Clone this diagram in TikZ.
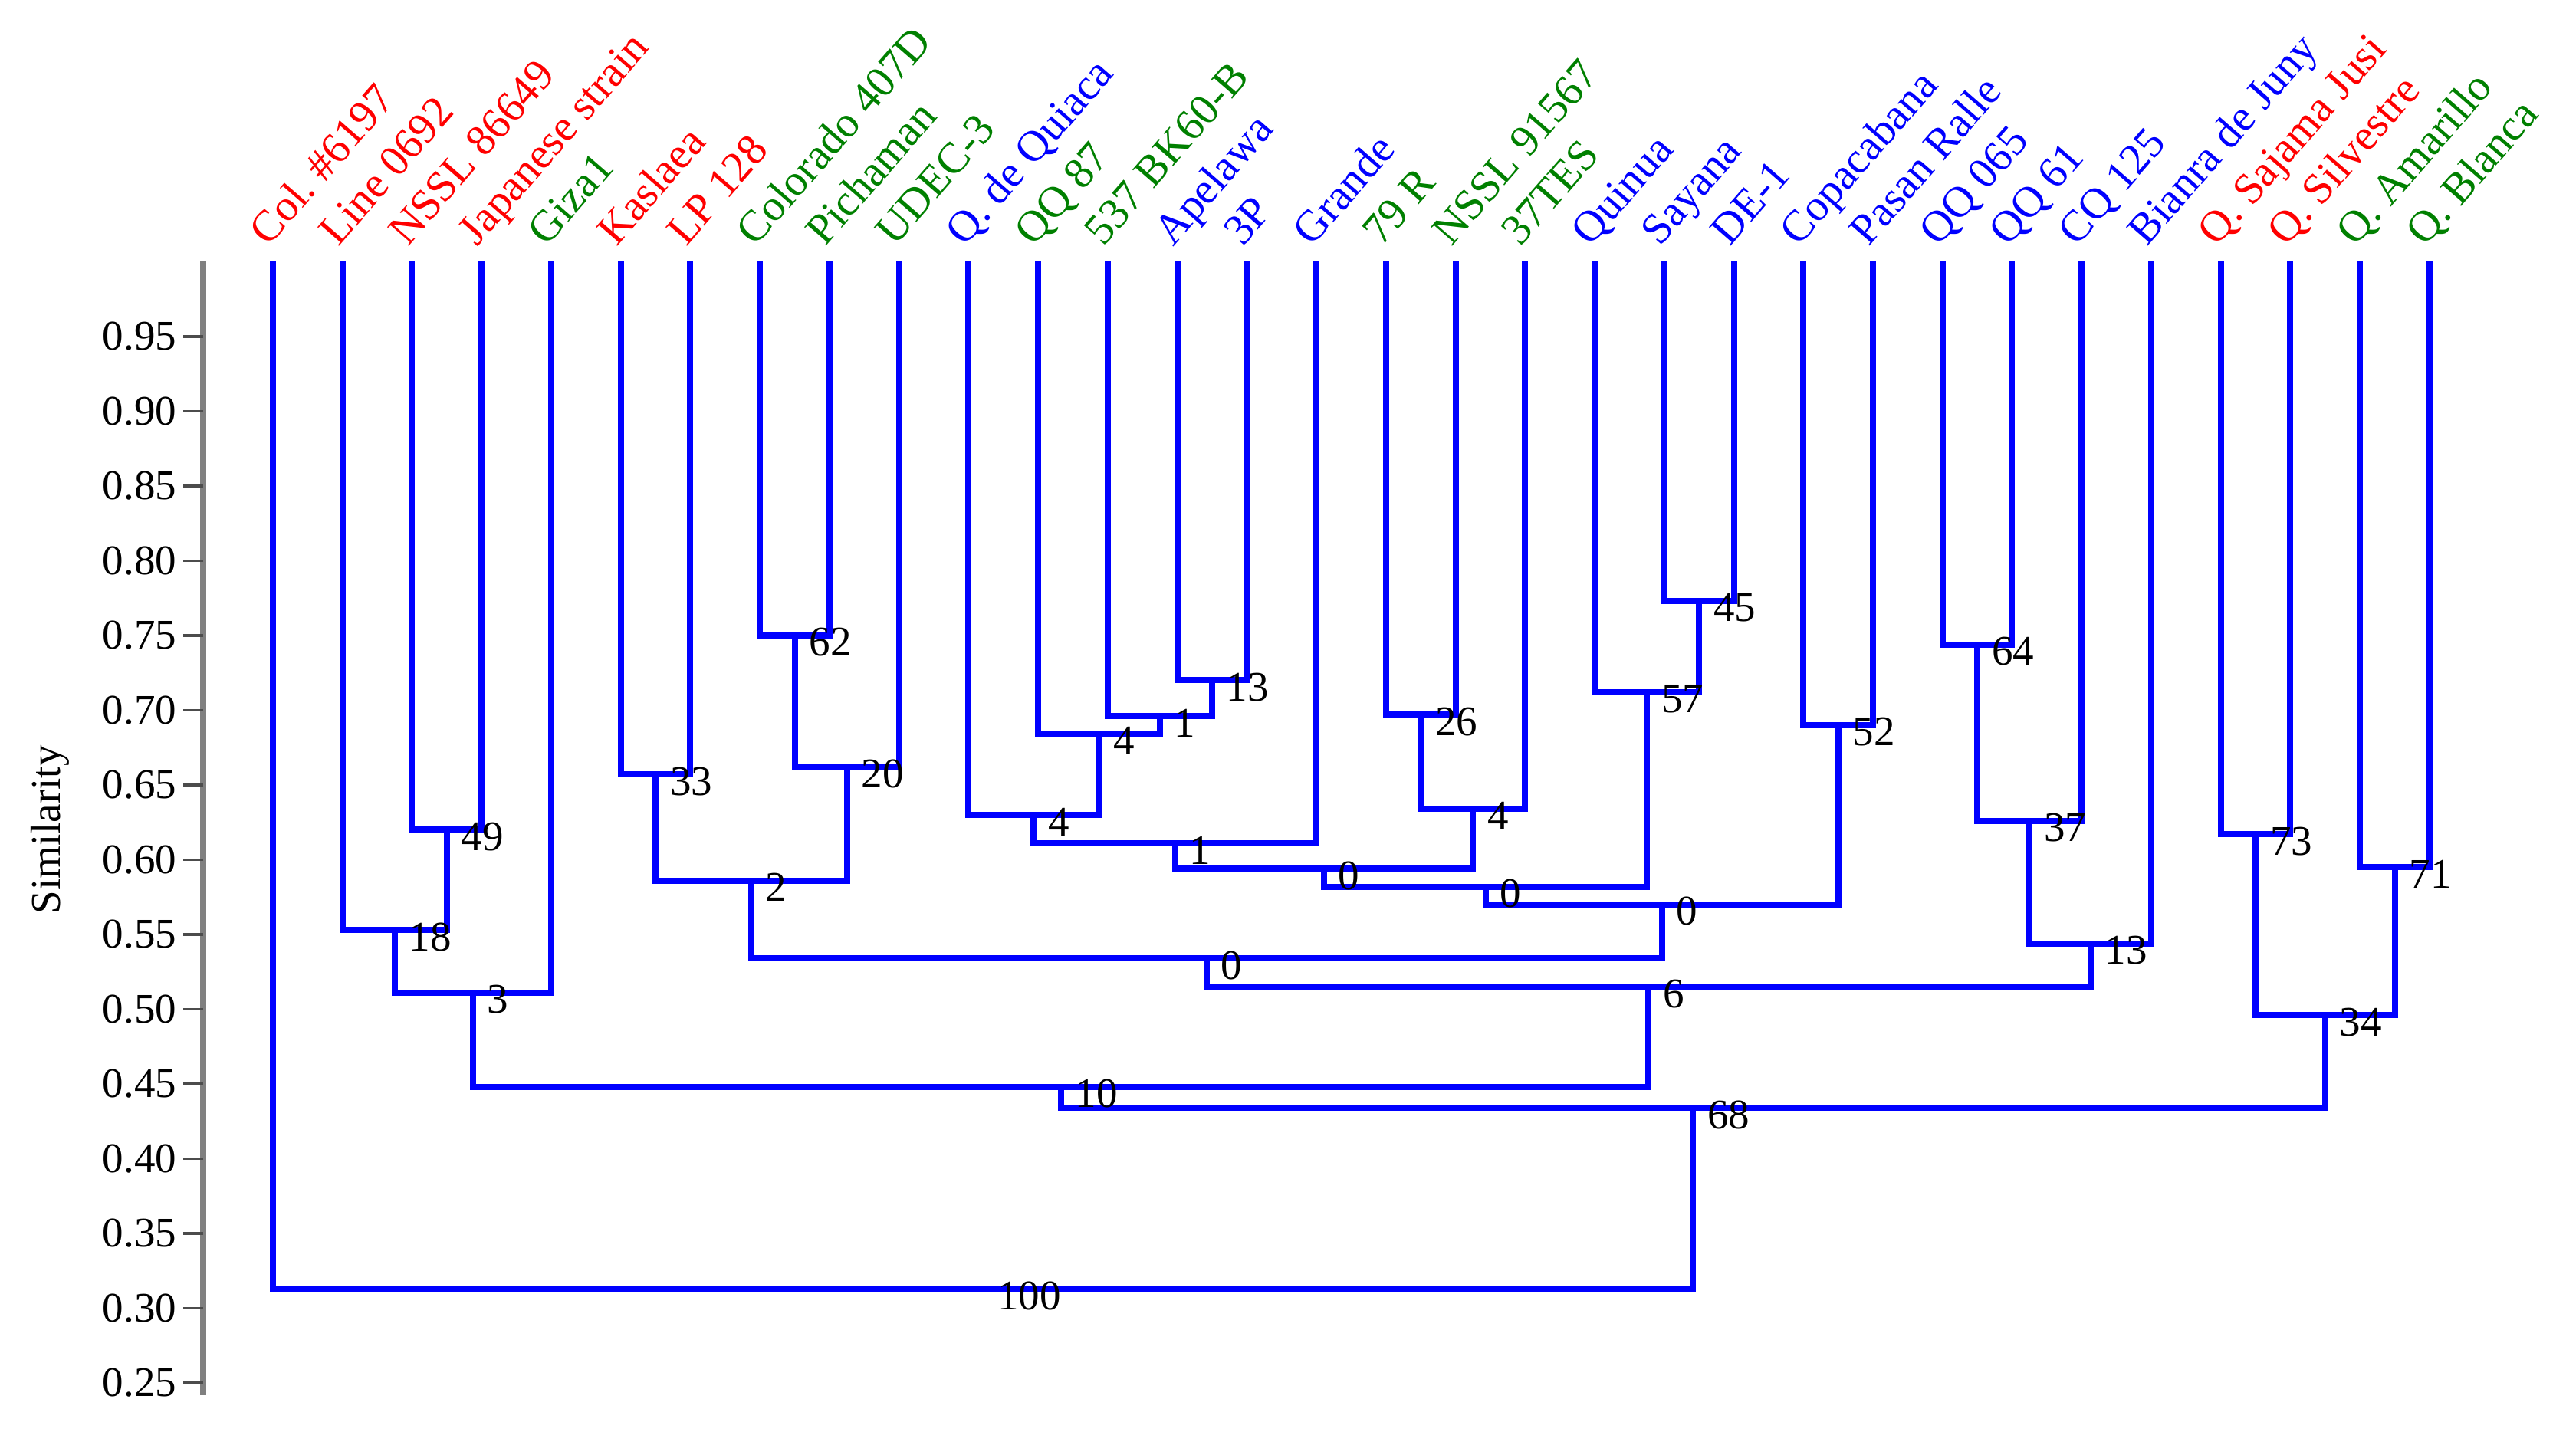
\documentclass[tikz,border=0pt]{standalone}
\usepackage{fontspec}
\setmainfont{Liberation Serif}
\usetikzlibrary{backgrounds}
\definecolor{leafgreen}{RGB}{0,128,0}

\begin{document}
\begin{tikzpicture}[x=18.148pt, y=390pt,
    branch/.style={blue, line width=1.6pt},
    leaf/.style={anchor=base west, inner sep=0pt, xshift=-1.2pt, yshift=3.6pt, rotate=49, font=\fontsize{11.4}{13}\selectfont},
    boot/.style={anchor=west, inner sep=0pt, xshift=3.6pt, yshift=-1.8pt, font=\fontsize{11}{13}\selectfont},
    ytick/.style={black!70, line width=0.75pt},
    tlab/.style={anchor=east, inner sep=0pt, xshift=-1.4pt, text=black, font=\fontsize{11}{13}\selectfont}]
    \useasboundingbox (-2.923,0.2172) rectangle (34.106,1.1751);

    %axis
    \draw[gray, line width=1.6pt] (0,1) -- (0,0.242);
    \draw[ytick] (0,0.95) -- (-0.29,0.95) node[tlab] (y95) {0.95};
    \draw[ytick] (0,0.90) -- (-0.29,0.90) node[tlab] (y90) {0.90};
    \draw[ytick] (0,0.85) -- (-0.29,0.85) node[tlab] (y85) {0.85};
    \draw[ytick] (0,0.80) -- (-0.29,0.80) node[tlab] (y80) {0.80};
    \draw[ytick] (0,0.75) -- (-0.29,0.75) node[tlab] (y75) {0.75};
    \draw[ytick] (0,0.70) -- (-0.29,0.70) node[tlab] (y70) {0.70};
    \draw[ytick] (0,0.65) -- (-0.29,0.65) node[tlab] (y65) {0.65};
    \draw[ytick] (0,0.60) -- (-0.29,0.60) node[tlab] (y60) {0.60};
    \draw[ytick] (0,0.55) -- (-0.29,0.55) node[tlab] (y55) {0.55};
    \draw[ytick] (0,0.50) -- (-0.29,0.50) node[tlab] (y50) {0.50};
    \draw[ytick] (0,0.45) -- (-0.29,0.45) node[tlab] (y45) {0.45};
    \draw[ytick] (0,0.40) -- (-0.29,0.40) node[tlab] (y40) {0.40};
    \draw[ytick] (0,0.35) -- (-0.29,0.35) node[tlab] (y35) {0.35};
    \draw[ytick] (0,0.30) -- (-0.29,0.30) node[tlab] (y30) {0.30};
    \draw[ytick] (0,0.25) -- (-0.29,0.25) node[tlab] (y25) {0.25};
    \node[rotate=90, font=\fontsize{11}{13}\selectfont] (ylab) at (-2.2,0.62) {Similarity};

    %leaves
    \coordinate [label={[leaf,red]Col.\ \#6197}] (l1) at (1,1);
    \coordinate [label={[leaf,red]Line 0692}] (l2) at (2,1);
    \coordinate [label={[leaf,red]NSSL 86649}] (l3) at (3,1);
    \coordinate [label={[leaf,red]Japanese strain}] (l4) at (4,1);
    \coordinate [label={[leaf,leafgreen]Giza1}] (l5) at (5,1);
    \coordinate [label={[leaf,red]Kaslaea}] (l6) at (6,1);
    \coordinate [label={[leaf,red]LP 128}] (l7) at (7,1);
    \coordinate [label={[leaf,leafgreen]Colorado 407D}] (l8) at (8,1);
    \coordinate [label={[leaf,leafgreen]Pichaman}] (l9) at (9,1);
    \coordinate [label={[leaf,leafgreen]UDEC-3}] (l10) at (10,1);
    \coordinate [label={[leaf,blue]Q. de Quiaca}] (l11) at (11,1);
    \coordinate [label={[leaf,leafgreen]QQ 87}] (l12) at (12,1);
    \coordinate [label={[leaf,leafgreen]537 BK60-B}] (l13) at (13,1);
    \coordinate [label={[leaf,blue]Apelawa}] (l14) at (14,1);
    \coordinate [label={[leaf,blue]3P}] (l15) at (15,1);
    \coordinate [label={[leaf,blue]Grande}] (l16) at (16,1);
    \coordinate [label={[leaf,leafgreen]79 R}] (l17) at (17,1);
    \coordinate [label={[leaf,leafgreen]NSSL 91567}] (l18) at (18,1);
    \coordinate [label={[leaf,leafgreen]37TES}] (l19) at (19,1);
    \coordinate [label={[leaf,blue]Quinua}] (l20) at (20,1);
    \coordinate [label={[leaf,blue]Sayana}] (l21) at (21,1);
    \coordinate [label={[leaf,blue]DE-1}] (l22) at (22,1);
    \coordinate [label={[leaf,blue]Copacabana}] (l23) at (23,1);
    \coordinate [label={[leaf,blue]Pasan Ralle}] (l24) at (24,1);
    \coordinate [label={[leaf,blue]QQ 065}] (l25) at (25,1);
    \coordinate [label={[leaf,blue]QQ 61}] (l26) at (26,1);
    \coordinate [label={[leaf,blue]CQ 125}] (l27) at (27,1);
    \coordinate [label={[leaf,blue]Bianra de Juny}] (l28) at (28,1);
    \coordinate [label={[leaf,red]Q. Sajama Jusi}] (l29) at (29,1);
    \coordinate [label={[leaf,red]Q. Silvestre}] (l30) at (30,1);
    \coordinate [label={[leaf,leafgreen]Q. Amarillo}] (l31) at (31,1);
    \coordinate [label={[leaf,leafgreen]Q. Blanca}] (l32) at (32,1);

    %clusters
    \coordinate [label={[boot]right:49}] (g3-4) at (3.5,0.620);
    \coordinate [label={[boot]right:18}] (g2-4) at (2.75,0.553);
    \coordinate [label={[boot]right:3}] (g2-5) at (3.875,0.511);
    \coordinate [label={[boot]right:33}] (g6-7) at (6.5,0.657);
    \coordinate [label={[boot]right:62}] (g8-9) at (8.5,0.750);
    \coordinate [label={[boot]right:20}] (g8-10) at (9.25,0.662);
    \coordinate [label={[boot]right:2}] (g6-10) at (7.875,0.586);
    \coordinate [label={[boot]right:13}] (g14-15) at (14.5,0.720);
    \coordinate [label={[boot]right:1}] (g13-15) at (13.75,0.696);
    \coordinate [label={[boot]right:4}] (g12-15) at (12.875,0.684);
    \coordinate [label={[boot]right:4}] (g11-15) at (11.9375,0.630);
    \coordinate [label={[boot]right:1}] (g11-16) at (13.969,0.611);
    \coordinate [label={[boot]right:26}] (g17-18) at (17.5,0.697);
    \coordinate [label={[boot]right:4}] (g17-19) at (18.25,0.634);
    \coordinate [label={[boot]right:0}] (g11-19) at (16.109,0.594);
    \coordinate [label={[boot]right:45}] (g21-22) at (21.5,0.773);
    \coordinate [label={[boot]right:57}] (g20-22) at (20.75,0.712);
    \coordinate [label={[boot]right:0}] (g11-22) at (18.43,0.582);
    \coordinate [label={[boot]right:52}] (g23-24) at (23.5,0.690);
    \coordinate [label={[boot]right:0}] (g11-24) at (20.965,0.570);
    \coordinate [label={[boot]right:0}] (g6-24) at (14.42,0.534);
    \coordinate [label={[boot]right:64}] (g25-26) at (25.5,0.744);
    \coordinate [label={[boot]right:37}] (g25-27) at (26.25,0.626);
    \coordinate [label={[boot]right:13}] (g25-28) at (27.125,0.544);
    \coordinate [label={[boot]right:6}] (g6-28) at (20.773,0.515);
    \coordinate [label={[boot]right:10}] (g2-28) at (12.324,0.448);
    \coordinate [label={[boot]right:73}] (g29-30) at (29.5,0.617);
    \coordinate [label={[boot]right:71}] (g31-32) at (31.5,0.595);
    \coordinate [label={[boot]right:34}] (g29-32) at (30.5,0.496);
    \coordinate [label={[boot]right:68}] (g2-32) at (21.412,0.434);
    \coordinate [label={[boot]right:100}] (g1-32) at (11.206,0.313);

    \begin{scope}[on background layer]
    \draw[branch] (l3) |- (g3-4) -| (l4);
    \draw[branch] (l2) |- (g2-4) -| (g3-4);
    \draw[branch] (g2-4) |- (g2-5) -| (l5);
    \draw[branch] (l6) |- (g6-7) -| (l7);
    \draw[branch] (l8) |- (g8-9) -| (l9);
    \draw[branch] (g8-9) |- (g8-10) -| (l10);
    \draw[branch] (g6-7) |- (g6-10) -| (g8-10);
    \draw[branch] (l14) |- (g14-15) -| (l15);
    \draw[branch] (l13) |- (g13-15) -| (g14-15);
    \draw[branch] (l12) |- (g12-15) -| (g13-15);
    \draw[branch] (l11) |- (g11-15) -| (g12-15);
    \draw[branch] (g11-15) |- (g11-16) -| (l16);
    \draw[branch] (l17) |- (g17-18) -| (l18);
    \draw[branch] (g17-18) |- (g17-19) -| (l19);
    \draw[branch] (g11-16) |- (g11-19) -| (g17-19);
    \draw[branch] (l21) |- (g21-22) -| (l22);
    \draw[branch] (l20) |- (g20-22) -| (g21-22);
    \draw[branch] (g11-19) |- (g11-22) -| (g20-22);
    \draw[branch] (l23) |- (g23-24) -| (l24);
    \draw[branch] (g11-22) |- (g11-24) -| (g23-24);
    \draw[branch] (g6-10) |- (g6-24) -| (g11-24);
    \draw[branch] (l25) |- (g25-26) -| (l26);
    \draw[branch] (g25-26) |- (g25-27) -| (l27);
    \draw[branch] (g25-27) |- (g25-28) -| (l28);
    \draw[branch] (g6-24) |- (g6-28) -| (g25-28);
    \draw[branch] (g2-5) |- (g2-28) -| (g6-28);
    \draw[branch] (l29) |- (g29-30) -| (l30);
    \draw[branch] (l31) |- (g31-32) -| (l32);
    \draw[branch] (g29-30) |- (g29-32) -| (g31-32);
    \draw[branch] (g2-28) |- (g2-32) -| (g29-32);
    \draw[branch] (l1) |- (g1-32) -| (g2-32);
    \end{scope}
\end{tikzpicture}
\end{document}
